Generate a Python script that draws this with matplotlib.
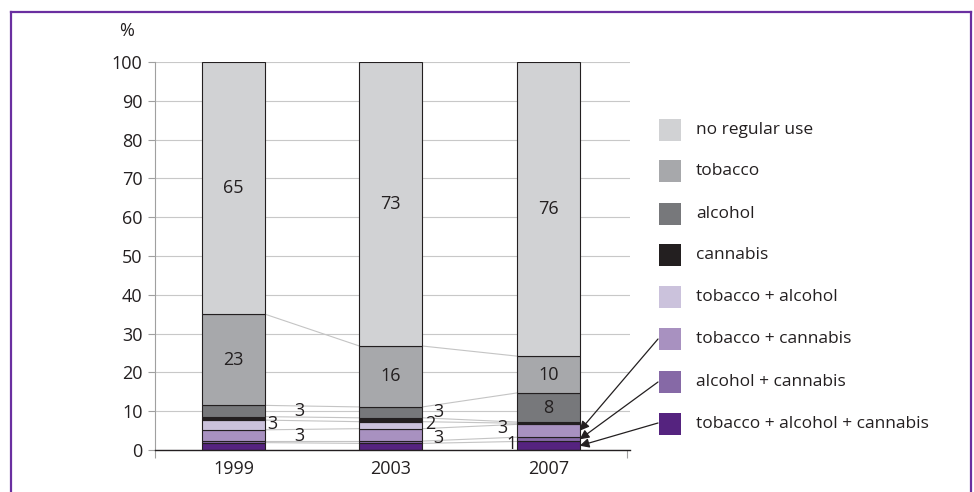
import matplotlib
matplotlib.use("Agg")
import matplotlib.pyplot as plt
from matplotlib.patches import Rectangle
from matplotlib.lines import Line2D
import numpy as np

plt.rcParams['font.family'] = ['Open Sans', 'DejaVu Sans']

years = ['1999', '2003', '2007']
categories = ['tobacco + alcohol + cannabis', 'alcohol + cannabis', 'tobacco + cannabis',
              'tobacco + alcohol', 'cannabis', 'alcohol', 'tobacco', 'no regular use']
tob_alc_can = [1.9, 1.7, 2.2]
alc_can = [0.4, 0.6, 1.1]
tob_can = [2.9, 3.2, 3.3]
tob_alc = [2.5, 1.8, 0.3]
cannabis = [0.9, 1.0, 0.3]
alcohol = [2.9, 2.8, 7.5]
tobacco = [23.5, 15.7, 9.5]
no_regular = [65.0, 73.2, 75.8]
series = [tob_alc_can, alc_can, tob_can, tob_alc, cannabis, alcohol, tobacco, no_regular]
colors = ['#55237f', '#8669a6', '#a891c0', '#cbc2dc', '#231f20', '#77787b', '#a7a8ab', '#d1d2d4']

# shown data labels: (year index, series index, text)
shown_labels = [(0, 7, '65'), (0, 6, '23'), (0, 5, '3'), (0, 3, '3'), (0, 2, '3'),
                (1, 7, '73'), (1, 6, '16'), (1, 5, '3'), (1, 3, '2'), (1, 2, '3'),
                (2, 7, '76'), (2, 6, '10'), (2, 5, '8'), (2, 2, '3'), (2, 1, '1')]
# label offsets (x in category units, y in %) for the small labels
label_offsets = {(0, 5): (0.42, 0.0), (0, 3): (0.245, 0.3), (0, 2): (0.42, -0.2),
                 (1, 5): (0.30, 0.2), (1, 3): (0.25, 0.4), (1, 2): (0.30, -0.8),
                 (2, 2): (-0.29, 0.8), (2, 1): (-0.235, -1.1)}

W, H = 974, 492
fig = plt.figure(figsize=(W / 100, H / 100), dpi=100)
L, R, T, B = 155, 630, 62, 450
ax = fig.add_axes([L / W, 1 - B / H, (R - L) / W, (B - T) / H])

x = np.arange(len(years))
bw = 0.4
txtc = '#231f20'
fs = 13
bottoms = np.zeros(len(years))
cums = []
for s, c in zip(series, colors):
    vals = np.array(s)
    ax.bar(x, vals, bw, bottom=bottoms, color=c, edgecolor='#231f20', linewidth=0.8, zorder=3)
    bottoms = bottoms + vals
    cums.append(bottoms.copy())

# series lines
for cum in cums[:-1]:
    for i in range(len(years) - 1):
        ax.plot([x[i] + bw / 2, x[i + 1] - bw / 2], [cum[i], cum[i + 1]],
                color='#c4c4c4', linewidth=0.8, zorder=2)

# data labels
for (yi, si, t) in shown_labels:
    base = cums[si][yi] - series[si][yi]
    mid = base + series[si][yi] / 2
    dx, dy = label_offsets.get((yi, si), (0.0, 0.0))
    ax.text(x[yi] + dx, mid + dy, t, ha='center', va='center', fontsize=fs, color=txtc, zorder=5)

ax.set_xlim(-0.5, 2.52)
ax.set_ylim(0, 100)
ax.set_yticks(np.arange(0, 101, 10))
ax.yaxis.grid(True, color='#c8c8c8', linewidth=0.8, zorder=0)
ax.set_axisbelow(True)
ax.set_xticks(x)
ax.set_xticklabels(years)
ax.set_xticks([-0.5, 2.5], minor=True)
ax.tick_params(axis='x', which='major', length=0, labelsize=fs, labelcolor=txtc, pad=7)
ax.tick_params(axis='x', which='minor', length=6, color='#a0a0a0', width=0.8)
ax.tick_params(axis='y', length=5, color='#a0a0a0', width=0.8, labelsize=fs, labelcolor=txtc, pad=4)
for sp in ['top', 'right']:
    ax.spines[sp].set_visible(False)
ax.spines['left'].set_color('#a0a0a0')
ax.spines['left'].set_linewidth(0.8)
ax.spines['bottom'].set_color('#231f20')
ax.spines['bottom'].set_linewidth(1.0)
ax.spines['bottom'].set_zorder(4)

fig.text(127 / W, 1 - 31 / H, '%', ha='center', va='center', fontsize=fs, color=txtc)

# legend (manual)
leg_y = [130, 171, 214, 255, 297, 339, 382, 424]
leg_order = list(range(len(categories)))[::-1]
for k, si in enumerate(leg_order):
    yc = leg_y[k]
    fig.add_artist(Rectangle((659 / W, 1 - (yc + 11) / H), 22 / W, 22 / H,
                             transform=fig.transFigure, facecolor=colors[si], edgecolor='none'))
    fig.text(696 / W, 1 - yc / H, categories[si], ha='left', va='center', fontsize=12.5, color=txtc)

# arrows from legend to 2007 small segments
for si, yc in [(2, 339), (1, 382), (0, 423)]:
    base = cums[si][2] - series[si][2]
    mid = base + series[si][2] / 2
    ax.annotate('', xy=(x[2] + bw / 2, mid), xycoords='data',
                xytext=(658 / W, 1 - yc / H), textcoords='figure fraction',
                arrowprops=dict(arrowstyle='-|>', color='#231f20', lw=0.9,
                                mutation_scale=14, shrinkA=0, shrinkB=0),
                annotation_clip=False, zorder=6)

# purple frame
fc = '#6a2fa0'
fig.add_artist(Line2D([10.5 / W, 10.5 / W], [0, 1 - 11.5 / H], transform=fig.transFigure, color=fc, lw=1.6))
fig.add_artist(Line2D([10.5 / W, 970.5 / W], [1 - 11.5 / H, 1 - 11.5 / H], transform=fig.transFigure, color=fc, lw=1.6))
fig.add_artist(Line2D([970.5 / W, 970.5 / W], [0, 1 - 11.5 / H], transform=fig.transFigure, color=fc, lw=1.6))

fig.savefig('out.png', dpi=100)
